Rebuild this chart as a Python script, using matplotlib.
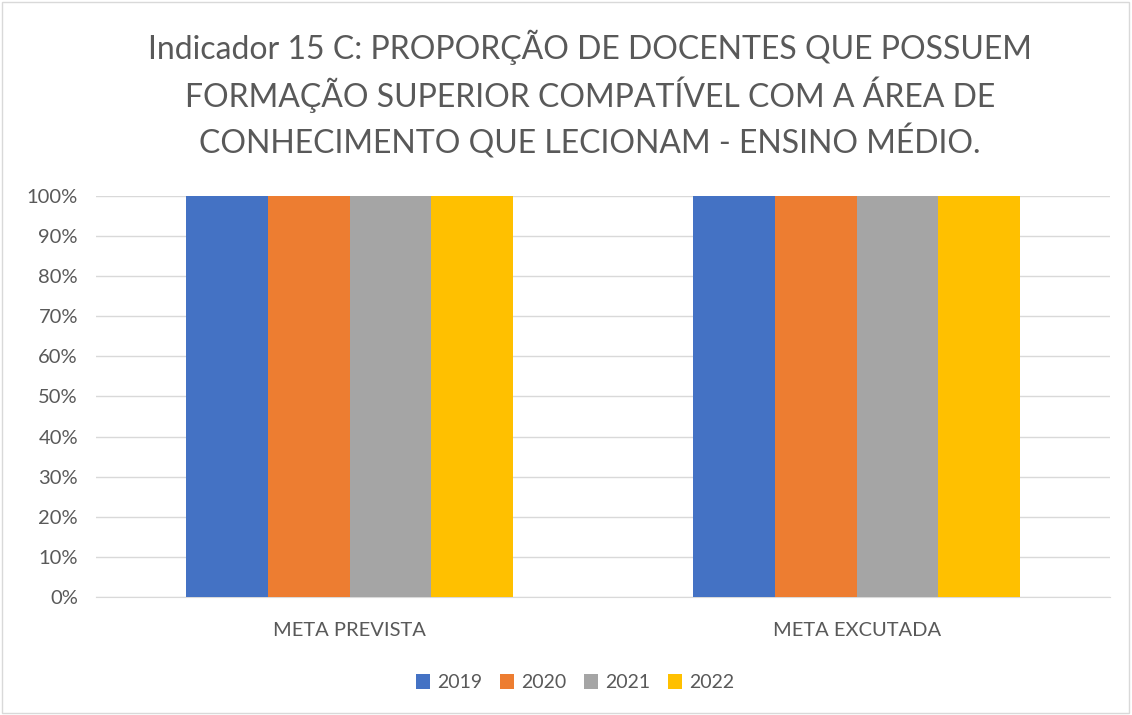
import numpy as np
import matplotlib.pyplot as plt
from matplotlib.patches import Rectangle

plt.rcParams['font.family'] = ['Lato', 'DejaVu Sans']

categorias = ['META PREVISTA', 'META EXCUTADA']
anos = ['2019', '2020', '2021', '2022']
valores = {
    '2019': [1.0, 1.0],
    '2020': [1.0, 1.0],
    '2021': [1.0, 1.0],
    '2022': [1.0, 1.0],
}
cores = ['#4472C4', '#ED7D31', '#A5A5A5', '#FFC000']

fig = plt.figure(figsize=(11.32, 7.15), dpi=100)
ax = fig.add_axes([0.0848, 0.165, 0.896, 0.561])

x = np.arange(len(categorias))
w = 0.161
for i, ano in enumerate(anos):
    ax.bar(x + (i - 1.5) * w, valores[ano], w, color=cores[i], label=ano, zorder=3)

ax.set_xlim(-0.5, 1.5)
ax.set_ylim(0, 1.0)
ax.set_yticks(np.arange(0, 1.01, 0.1))
ax.set_yticklabels([f'{int(round(v*100))}%' for v in np.arange(0, 1.01, 0.1)])
ax.set_xticks(x)
ax.set_xticklabels(categorias)
ax.grid(axis='y', color='#D9D9D9', linewidth=1, zorder=0)
for s in ['top', 'right', 'left']:
    ax.spines[s].set_visible(False)
ax.spines['bottom'].set_color('#D9D9D9')
ax.tick_params(axis='both', length=0, colors='#595959', labelsize=14.5)
ax.tick_params(axis='y', pad=13)
ax.tick_params(axis='x', pad=18)

fig.text(0.521, 0.958, 'Indicador 15 C: PROPORÇÃO DE DOCENTES QUE POSSUEM\n'
         'FORMAÇÃO SUPERIOR COMPATÍVEL COM A ÁREA DE\n'
         'CONHECIMENTO QUE LECIONAM - ENSINO MÉDIO.',
         ha='center', va='top', fontsize=23, color='#595959', linespacing=1.38)

leg = fig.legend(loc='center', bbox_to_anchor=(0.508, 0.045), ncol=4, frameon=False,
                 fontsize=14, handlelength=0.75, handleheight=0.75, columnspacing=0.9,
                 handletextpad=0.35, labelcolor='#595959')

fig.patches.append(Rectangle((0.002, 0.003), 0.995, 0.994, transform=fig.transFigure,
                             fill=False, edgecolor='#D9D9D9', linewidth=1))

fig.savefig('out.png', dpi=100)
